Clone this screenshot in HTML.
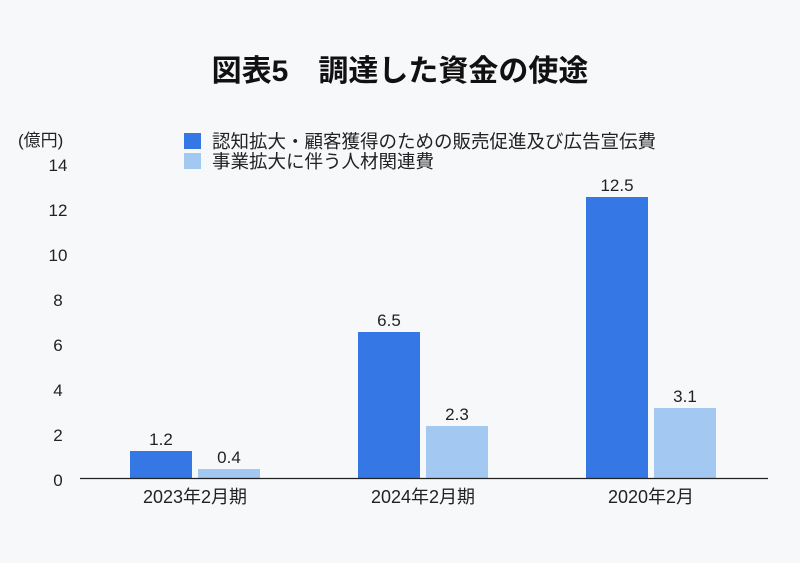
<!DOCTYPE html>
<html><head><meta charset="utf-8"><style>
html,body{margin:0;padding:0;background:#f7f8fa;}
svg{display:block;font-family:"Liberation Sans","Noto Sans CJK JP",sans-serif;}
</style></head><body>
<svg width="800" height="563" viewBox="0 0 800 563">
<rect width="800" height="563" fill="#f7f8fa"/>
<text x="400" y="81" text-anchor="middle" font-size="30" font-weight="bold" fill="#111">図表5　調達した資金の使途</text>
<text x="18" y="146" font-size="17" fill="#222">(億円)</text>
<g font-size="17" fill="#222" text-anchor="middle">
<text x="58" y="171">14</text><text x="58" y="216">12</text><text x="58" y="261">10</text>
<text x="58" y="306">8</text><text x="58" y="351">6</text><text x="58" y="396">4</text>
<text x="58" y="441">2</text><text x="58" y="486">0</text>
</g>
<rect x="184" y="133" width="17" height="16" fill="#3578e5"/>
<rect x="184" y="153" width="17" height="16" fill="#a3c8f2"/>
<text x="212" y="148" font-size="18.5" fill="#222">認知拡大・顧客獲得のための販売促進及び広告宣伝費</text>
<text x="212" y="168" font-size="18.5" fill="#222">事業拡大に伴う人材関連費</text>
<g fill="#3578e5">
<rect x="130" y="451" width="62" height="27"/>
<rect x="358" y="332" width="62" height="146"/>
<rect x="586" y="197" width="62" height="281"/>
</g>
<g fill="#a3c8f2">
<rect x="198" y="469" width="62" height="9"/>
<rect x="426" y="426" width="62" height="52"/>
<rect x="654" y="408" width="62" height="70"/>
</g>
<line x1="80" y1="478.5" x2="768" y2="478.5" stroke="#222" stroke-width="1.2"/>
<g font-size="17" fill="#222" text-anchor="middle">
<text x="161" y="445">1.2</text><text x="229" y="463">0.4</text>
<text x="389" y="326">6.5</text><text x="457" y="420">2.3</text>
<text x="617" y="191">12.5</text><text x="685" y="402">3.1</text>
</g>
<g font-size="18" fill="#222" text-anchor="middle">
<text x="195" y="503">2023年2月期</text>
<text x="423" y="503">2024年2月期</text>
<text x="651" y="503">2020年2月</text>
</g>
</svg>
</body></html>
